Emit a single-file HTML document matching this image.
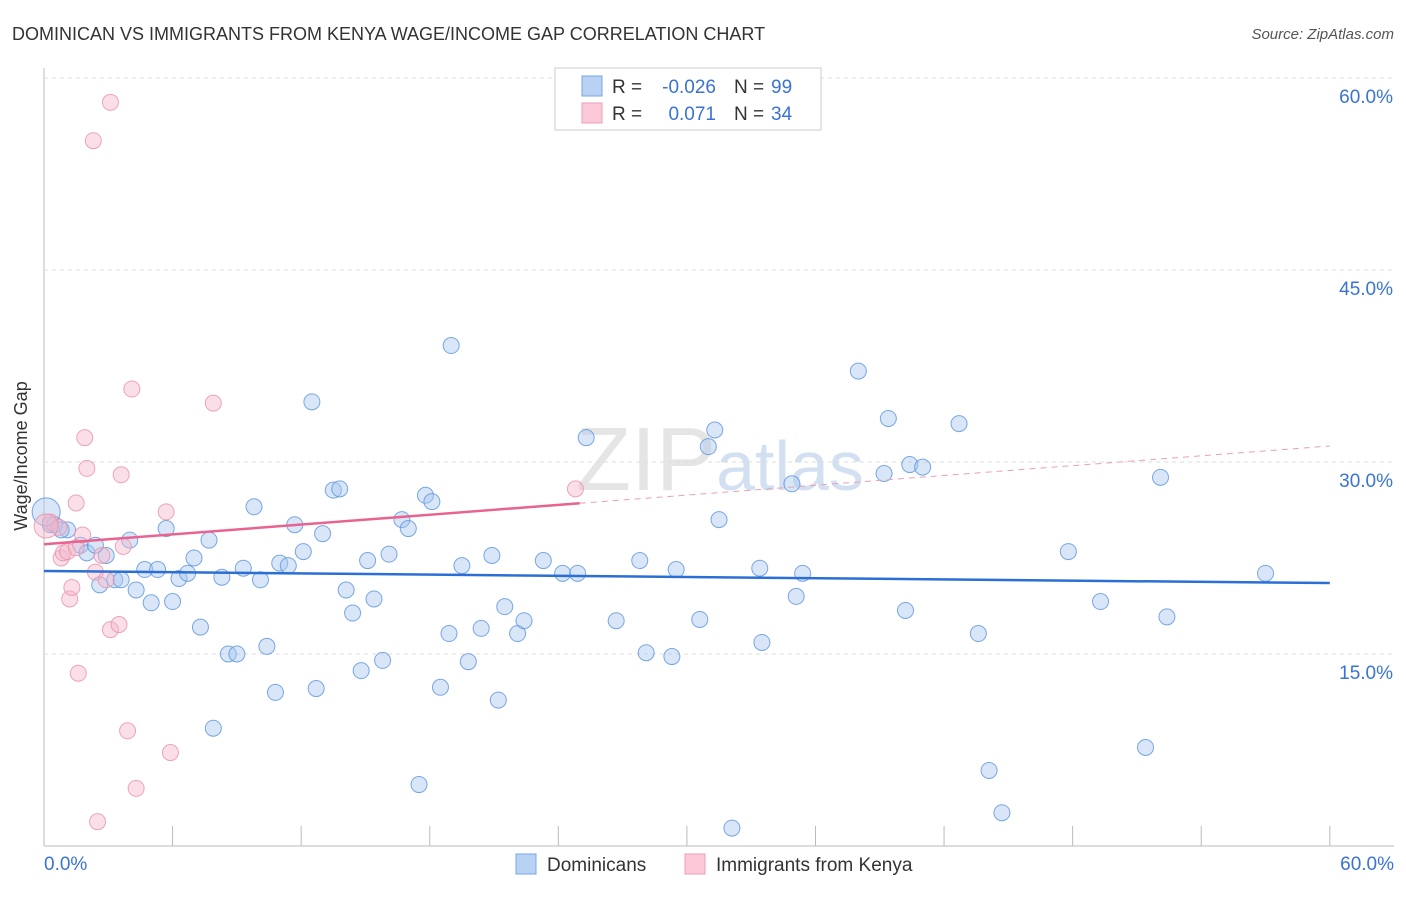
<!DOCTYPE html>
<html><head><meta charset="utf-8"><style>
body{margin:0;background:#fff;font-family:"Liberation Sans",sans-serif}
svg text{font-family:"Liberation Sans",sans-serif}
</style></head><body>
<svg id="c" width="1406" height="892">
<text x="12" y="40" font-size="18" fill="#333">DOMINICAN VS IMMIGRANTS FROM KENYA WAGE/INCOME GAP CORRELATION CHART</text>
<text x="1394" y="39" font-size="15" fill="#555" text-anchor="end" font-style="italic">Source: ZipAtlas.com</text>
<text x="27" y="456" font-size="18" fill="#333" text-anchor="middle" transform="rotate(-90 27 456)">Wage/Income Gap</text>
<text x="720" y="490" font-size="90" fill="#ccc" opacity="0.5" text-anchor="middle" font-family="Liberation Serif">ZIP<tspan fill="#a9c3e6" font-family="Liberation Sans" font-size="70">atlas</tspan></text>
<g id="grid"></g><g id="pts"></g><g id="lines"></g>
<g>
<rect x="555" y="68" width="266" height="62" fill="#fff" stroke="#ccc"/>
<rect x="582" y="76" width="20" height="20" fill="#b8d2f4" stroke="#7aa6e0"/>
<rect x="582" y="103" width="20" height="20" fill="#fbc9d8" stroke="#eba0b8"/>
<text x="612" y="93" font-size="19" fill="#333">R =</text>
<text x="716" y="93" font-size="19" fill="#3a73d4" text-anchor="end">-0.026</text>
<text x="734" y="93" font-size="19" fill="#333">N =</text>
<text x="771" y="93" font-size="19" fill="#3a73d4">99</text>
<text x="612" y="120" font-size="19" fill="#333">R =</text>
<text x="716" y="120" font-size="19" fill="#3a73d4" text-anchor="end">0.071</text>
<text x="734" y="120" font-size="19" fill="#333">N =</text>
<text x="771" y="120" font-size="19" fill="#3a73d4">34</text>
</g>
<g>
<rect x="516" y="854" width="20" height="20" fill="#b8d2f4" stroke="#7aa6e0"/>
<text x="547" y="871" font-size="19" fill="#333">Dominicans</text>
<rect x="685" y="854" width="20" height="20" fill="#fbc9d8" stroke="#eba0b8"/>
<text x="716" y="871" font-size="19" fill="#333">Immigrants from Kenya</text>
</g>
</svg>
<script>
const yTicks=[15,30,45,60];
const xTickLabels=["0.0%","60.0%"];
const blueX=[0.3,0.5,1.1,0.8,1.7,2.0,2.4,2.6,2.9,3.3,3.6,4.0,4.3,4.7,5.0,5.3,5.7,6.0,6.3,6.7,7.0,7.3,7.7,7.9,8.3,8.6,9.0,9.3,9.8,10.1,10.4,10.8,11.0,11.4,11.7,12.1,12.5,12.7,13.0,13.5,13.8,14.1,14.4,14.8,15.1,15.4,15.8,16.1,16.7,17.0,17.5,17.8,18.1,18.5,18.9,19.0,19.5,19.8,20.4,20.9,21.2,21.5,22.1,22.4,23.3,24.2,24.9,25.3,26.7,27.8,28.1,29.3,29.5,30.6,31.0,31.3,31.5,32.1,33.4,33.5,34.9,35.1,35.4,38.0,39.2,39.4,40.2,40.4,41.0,42.7,43.6,44.1,44.7,47.8,49.3,51.4,52.1,52.4,57.0,0.1];
const blueY=[25.1,25.1,24.7,24.7,23.5,22.9,23.5,20.4,22.7,20.8,20.8,23.9,20.0,21.6,19.0,21.6,24.8,19.1,20.9,21.3,22.5,17.1,23.9,9.2,21.0,15.0,15.0,21.7,26.5,20.8,15.6,12.0,22.1,21.9,25.1,23.0,34.7,12.3,24.4,27.8,27.9,20.0,18.2,13.7,22.3,19.3,14.5,22.8,25.5,24.8,4.8,27.4,26.9,12.4,16.6,39.1,21.9,14.4,17.0,22.7,11.4,18.7,16.6,17.6,22.3,21.3,21.3,31.9,17.6,22.3,15.1,14.8,21.6,17.7,31.2,32.5,25.5,1.4,21.7,15.9,28.3,19.5,21.3,37.1,29.1,33.4,18.4,29.8,29.6,33.0,16.6,5.9,2.6,23.0,19.1,7.7,28.8,17.9,21.3,26.1];
const pinkX=[0.3,0.7,0.8,0.9,1.1,1.2,1.3,1.5,1.5,1.6,1.8,1.9,2.0,2.3,2.4,2.5,2.7,2.9,3.1,3.1,3.5,3.6,3.7,3.9,4.1,4.3,5.7,5.9,7.9,24.8,0.1];
const pinkY=[25.3,24.9,22.5,22.9,23.0,19.3,20.2,23.3,26.8,13.5,24.3,31.9,29.5,55.1,21.4,1.9,22.7,20.8,16.9,58.1,17.3,29.0,23.4,9.0,35.7,4.5,26.1,7.3,34.6,27.9,25.0];
const X=v=>44+v*21.43, Y=v=>846-v*12.8;
const NS="http://www.w3.org/2000/svg";
function mk(t,a,p){const e=document.createElementNS(NS,t);for(const k in a)e.setAttribute(k,a[k]);p.appendChild(e);return e;}
const g=document.getElementById('grid'),pts=document.getElementById('pts'),ln=document.getElementById('lines');
mk('line',{x1:44,y1:68,x2:44,y2:846,stroke:'#bbb'},g);
mk('line',{x1:44,y1:846,x2:1394,y2:846,stroke:'#bbb'},g);
for(const t of yTicks){
 const l=mk('line',{x1:44,y1:Y(t),x2:1394,y2:Y(t),stroke:'#ddd','stroke-dasharray':'4,4'},g);
 
 
 const tx=mk('text',{x:1393,y:Y(t)+25,'font-size':19,fill:'#3a73d4','text-anchor':'end'},g);
 tx.textContent=t.toFixed(1)+'%';
 
 
}
for(let i=0;i<=10;i++){const x=X(i*6);mk('line',{x1:x,y1:826,x2:x,y2:846,stroke:'#bbb'},g);}
let t0=mk('text',{x:44,y:870,'font-size':19,fill:'#3a73d4'},g);t0.textContent=xTickLabels[0];


let t1=mk('text',{x:1394,y:870,'font-size':19,fill:'#3a73d4','text-anchor':'end'},g);t1.textContent=xTickLabels[1];


blueX.forEach((x,i)=>{const r=i==blueX.length-1?14:8;const c=mk('circle',{cx:X(x),cy:Y(blueY[i]),r:r,fill:'#a9c8f0','fill-opacity':0.45,stroke:'#5b93dc','stroke-opacity':0.8},pts);
 
 });
pinkX.forEach((x,i)=>{const r=i==pinkX.length-1?12:8;const c=mk('circle',{cx:X(x),cy:Y(pinkY[i]),r:r,fill:'#f5b8cc','fill-opacity':0.45,stroke:'#e891ad','stroke-opacity':0.8},pts);
 
 });
function fit(xs,ys){const n=xs.length,mx=xs.reduce((a,b)=>a+b)/n,my=ys.reduce((a,b)=>a+b)/n;let sxy=0,sxx=0;xs.forEach((x,i)=>{sxy+=(x-mx)*(ys[i]-my);sxx+=(x-mx)**2});const b=sxy/sxx;return [my-b*mx,b];}
const [ba,bb]=fit(blueX,blueY);
let l1=mk('line',{x1:X(0),y1:Y(ba),x2:X(60),y2:Y(ba+bb*60),stroke:'#2b6fd6','stroke-width':2.5},ln);


const [pa,pb]=fit(pinkX,pinkY);
let l2=mk('line',{x1:X(0),y1:Y(pa),x2:X(25),y2:Y(pa+pb*25),stroke:'#e8638f','stroke-width':2.5},ln);


let l3=mk('line',{x1:X(25),y1:Y(pa+pb*25),x2:X(60),y2:Y(pa+pb*60),stroke:'#e8a0b8','stroke-width':1,'stroke-dasharray':'6,5'},ln);


</script>
</body></html>
